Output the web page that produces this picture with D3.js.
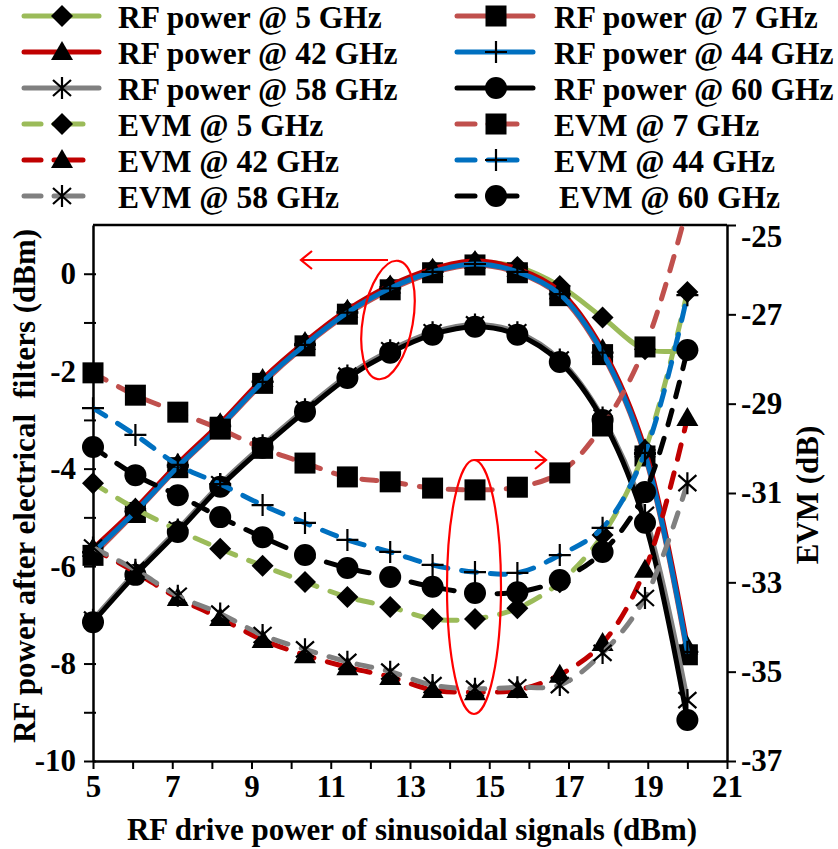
<!DOCTYPE html>
<html>
<head>
<meta charset="utf-8">
<script src="https://cdn.jsdelivr.net/npm/d3@7"></script>
<style>
  body { margin: 0; background: #fff; }
  svg text { font-family: "Liberation Serif", "Times New Roman", serif; font-weight: bold; fill: #000; }
</style>
</head>
<body>
<svg id="chart" width="838" height="849"></svg>
<script>
// drive power (dBm) at each measured point
const drivePower = [5, 6.07, 7.14, 8.21, 9.28, 10.35, 11.42, 12.5, 13.57, 14.64, 15.71, 16.78, 17.86, 18.93, 20];

// RF power after electrical filters (dBm), left axis
const rf5  = [-5.7, -4.85, -3.93, -3.1, -2.2, -1.43, -0.77, -0.26, 0.08, 0.24, 0.14, -0.25, -0.9, -1.55, -1.57];
const rf7  = [-5.78, -4.9, -3.98, -3.15, -2.25, -1.48, -0.83, -0.33, 0.02, 0.18, 0.02, -0.45, -1.66, -3.74, -7.82];
const rf42 = [-5.64, -4.82, -3.9, -3.07, -2.16, -1.4, -0.74, -0.24, 0.1, 0.26, 0.1, -0.36, -1.55, -3.6, -7.65];
const rf44 = [-5.72, -4.88, -3.96, -3.13, -2.22, -1.46, -0.8, -0.3, 0.04, 0.2, 0.04, -0.42, -1.62, -3.7, -7.76];
const rf58 = [-7.1, -6.13, -5.25, -4.32, -3.52, -2.78, -2.09, -1.57, -1.2, -1.04, -1.2, -1.76, -2.95, -4.95, -8.75];
const rf60 = [-7.15, -6.18, -5.3, -4.37, -3.57, -2.83, -2.14, -1.62, -1.25, -1.09, -1.25, -1.81, -3.0, -5.11, -9.16];

// EVM (dB), right axis
const evm5  = [-30.78, -31.35, -31.83, -32.25, -32.63, -32.99, -33.33, -33.55, -33.82, -33.82, -33.58, -33.0, -31.94, -30.04, -26.5];
const evm7  = [-28.31, -28.81, -29.19, -29.57, -30.0, -30.33, -30.64, -30.75, -30.89, -30.93, -30.87, -30.55, -29.5, -27.73, -24.6];
const evm42 = [-32.25, -32.77, -33.35, -33.8, -34.29, -34.63, -34.9, -35.12, -35.41, -35.46, -35.41, -35.07, -34.36, -32.72, -29.32];
const evm44 = [-29.1, -29.7, -30.37, -30.8, -31.27, -31.67, -32.05, -32.32, -32.61, -32.77, -32.79, -32.39, -31.78, -30.1, -26.57];
const evm58 = [-32.22, -32.72, -33.3, -33.7, -34.18, -34.5, -34.78, -35.0, -35.3, -35.38, -35.35, -35.3, -34.58, -33.35, -30.78];
const evm60 = [-29.97, -30.6, -31.05, -31.54, -31.99, -32.39, -32.68, -32.88, -33.1, -33.24, -33.22, -32.95, -32.32, -30.98, -27.8];

const xTicks = d3.range(5, 22, 1);
const yLeftTicks = d3.range(-10, 1, 1);
const yRightTicks = [-37, -35, -33, -31, -29, -27, -25];

// series in legend order (row by row)
const series = [
  { name: "RF power @ 5 GHz",  values: rf5,  axis: "L", color: "#9bbb59", marker: "diamond" },
  { name: "RF power @ 7 GHz",  values: rf7,  axis: "L", color: "#c0504d", marker: "square" },
  { name: "RF power @ 42 GHz", values: rf42, axis: "L", color: "#c00000", marker: "triangle" },
  { name: "RF power @ 44 GHz", values: rf44, axis: "L", color: "#0070c0", marker: "plus" },
  { name: "RF power @ 58 GHz", values: rf58, axis: "L", color: "#808080", marker: "star" },
  { name: "RF power @ 60 GHz", values: rf60, axis: "L", color: "#000000", marker: "circle" },
  { name: "EVM @ 5 GHz",  values: evm5,  axis: "R", color: "#9bbb59", marker: "diamond" },
  { name: "EVM @ 7 GHz",  values: evm7,  axis: "R", color: "#c0504d", marker: "square" },
  { name: "EVM @ 42 GHz", values: evm42, axis: "R", color: "#c00000", marker: "triangle" },
  { name: "EVM @ 44 GHz", values: evm44, axis: "R", color: "#0070c0", marker: "plus" },
  { name: "EVM @ 58 GHz", values: evm58, axis: "R", color: "#808080", marker: "star" },
  { name: "EVM @ 60 GHz", values: evm60, axis: "R", color: "#000000", marker: "circle" }
];

const svg = d3.select("#chart");
const plot = { left: 93, right: 727, top: 225, bottom: 761 };

const x = d3.scaleLinear().domain([5, 21]).range([plot.left, plot.right]);
const yL = d3.scaleLinear().domain([-10, 1]).range([plot.bottom, plot.top]);
const yR = d3.scaleLinear().domain([-37, -25]).range([plot.bottom, plot.top]);

svg.append("clipPath").attr("id", "plotClip")
  .append("rect")
  .attr("x", plot.left).attr("y", plot.top)
  .attr("width", plot.right - plot.left).attr("height", plot.bottom - plot.top);

// draw a marker of the given type centred at 0,0
function drawMarker(g, type) {
  if (type === "diamond") {
    g.append("path").attr("d", "M0,-11L11,0L0,11L-11,0Z").attr("fill", "#000");
  } else if (type === "square") {
    g.append("rect").attr("x", -10.5).attr("y", -10.5).attr("width", 21).attr("height", 21).attr("fill", "#000");
  } else if (type === "triangle") {
    g.append("path").attr("d", "M0,-11L11,8L-11,8Z").attr("fill", "#000");
  } else if (type === "circle") {
    g.append("circle").attr("r", 11).attr("fill", "#000");
  } else if (type === "plus") {
    g.append("path").attr("d", "M-11,0H11M0,-11V11").attr("stroke", "#000").attr("stroke-width", 2.2);
  } else if (type === "star") {
    g.append("path").attr("d", "M-9,-8L9,8M-9,8L9,-8M0,-11V11").attr("stroke", "#000").attr("stroke-width", 2.2);
  }
}

// --- axes ---
const fmt = d => String(d);

const leftAxis = svg.append("g")
  .attr("transform", `translate(${plot.left},0)`)
  .call(d3.axisLeft(yL).tickValues(yLeftTicks).tickSize(9).tickSizeOuter(0)
    .tickFormat(d => d % 2 === 0 ? fmt(d) : ""));
leftAxis.selectAll(".tick line").attr("x1", 3);

const rightAxis = svg.append("g")
  .attr("transform", `translate(${plot.right},0)`)
  .call(d3.axisRight(yR).tickValues(yRightTicks).tickSize(9).tickSizeOuter(0).tickFormat(fmt));

const bottomAxis = svg.append("g")
  .attr("transform", `translate(0,${plot.bottom})`)
  .call(d3.axisBottom(x).tickValues(xTicks).tickSize(8).tickSizeOuter(0)
    .tickFormat(d => d % 2 === 1 ? fmt(d) : ""));

svg.append("line")
  .attr("x1", plot.left).attr("x2", plot.right)
  .attr("y1", plot.top).attr("y2", plot.top)
  .attr("stroke", "#000").attr("stroke-width", 2.5);

[leftAxis, rightAxis, bottomAxis].forEach(a => {
  a.select(".domain").attr("stroke", "#000").attr("stroke-width", 2.5);
  a.selectAll(".tick line").attr("stroke", "#000").attr("stroke-width", 2);
  a.selectAll(".tick text")
    .attr("font-family", "Liberation Serif, serif")
    .attr("font-weight", "bold")
    .attr("font-size", 31);
});
leftAxis.selectAll(".tick text").attr("x", -17);
rightAxis.selectAll(".tick text").attr("x", 14);
// top label sits a little lower, as in the original
rightAxis.selectAll(".tick text").filter(d => d === -25).attr("dy", "0.32em").attr("y", 12);
bottomAxis.selectAll(".tick text").attr("y", 14);

// --- series ---
series.forEach(s => {
  const yScale = s.axis === "L" ? yL : yR;
  const pts = drivePower.map((d, i) => [d, s.values[i]]);
  const line = d3.line()
    .x(d => x(d[0])).y(d => yScale(d[1]))
    .curve(d3.curveCatmullRom.alpha(0.5));

  const g = svg.append("g");
  g.append("path")
    .attr("d", line(pts))
    .attr("clip-path", "url(#plotClip)")
    .attr("fill", "none")
    .attr("stroke", s.color)
    .attr("stroke-width", 5)
    .attr("stroke-linecap", "round")
    .attr("stroke-dasharray", s.axis === "R" ? "15,14" : null);

  const [lo, hi] = yScale.domain();
  g.selectAll("g.mk")
    .data(pts.filter(d => d[1] >= lo && d[1] <= hi))
    .enter().append("g")
    .attr("transform", d => `translate(${x(d[0])},${yScale(d[1])})`)
    .each(function () { drawMarker(d3.select(this), s.marker); });
});

// --- annotations ---
const ann = svg.append("g").attr("stroke", "#ff0000").attr("stroke-width", 2.2).attr("fill", "none");
ann.append("ellipse").attr("cx", 388).attr("cy", 320).attr("rx", 25).attr("ry", 60)
  .attr("transform", "rotate(10,388,320)");
ann.append("path").attr("d", "M388,260H301M312,251L301,260L312,269");
ann.append("ellipse").attr("cx", 474).attr("cy", 587).attr("rx", 27).attr("ry", 127);
ann.append("path").attr("d", "M474,460H546M535,451L546,460L535,469");

// --- axis titles ---
svg.append("text")
  .attr("x", 412).attr("y", 840)
  .attr("text-anchor", "middle").attr("font-size", 31)
  .text("RF drive power of sinusoidal signals (dBm)");

svg.append("text")
  .attr("transform", "translate(35,486) rotate(-90)")
  .attr("text-anchor", "middle").attr("font-size", 31)
  .attr("xml:space", "preserve")
  .text("RF power after electrical  filters (dBm)");

svg.append("text")
  .attr("transform", "translate(818,495) rotate(-90)")
  .attr("text-anchor", "middle").attr("font-size", 31)
  .text("EVM (dB)");

// --- legend ---
const rowY = [16, 52, 88, 124, 160, 196];
const cols = [
  { x1: 22, x2: 101, mx: 62, tx: 118 },
  { x1: 455, x2: 535, mx: 496, tx: 554 }
];
series.forEach((s, i) => {
  const c = cols[i % 2];
  const y = rowY[Math.floor(i / 2)];
  const g = svg.append("g");
  if (s.axis === "L") {
    g.append("line").attr("x1", c.x1 + 2).attr("x2", c.x2 - 2).attr("y1", y).attr("y2", y)
      .attr("stroke", s.color).attr("stroke-width", 5).attr("stroke-linecap", "round");
  } else {
    [[c.x1 + 2, c.mx - 21], [c.mx - 8, c.mx + 21]].forEach(([a, b]) => {
      g.append("line").attr("x1", a).attr("x2", b).attr("y1", y).attr("y2", y)
        .attr("stroke", s.color).attr("stroke-width", 5).attr("stroke-linecap", "round");
    });
  }
  const m = g.append("g").attr("transform", `translate(${c.mx},${y})`);
  drawMarker(m, s.marker);
  g.append("text").attr("x", i === 11 ? c.tx + 5 : c.tx).attr("y", y + 12)
    .attr("font-size", 31.5).text(s.name);
});
</script>
</body>
</html>
